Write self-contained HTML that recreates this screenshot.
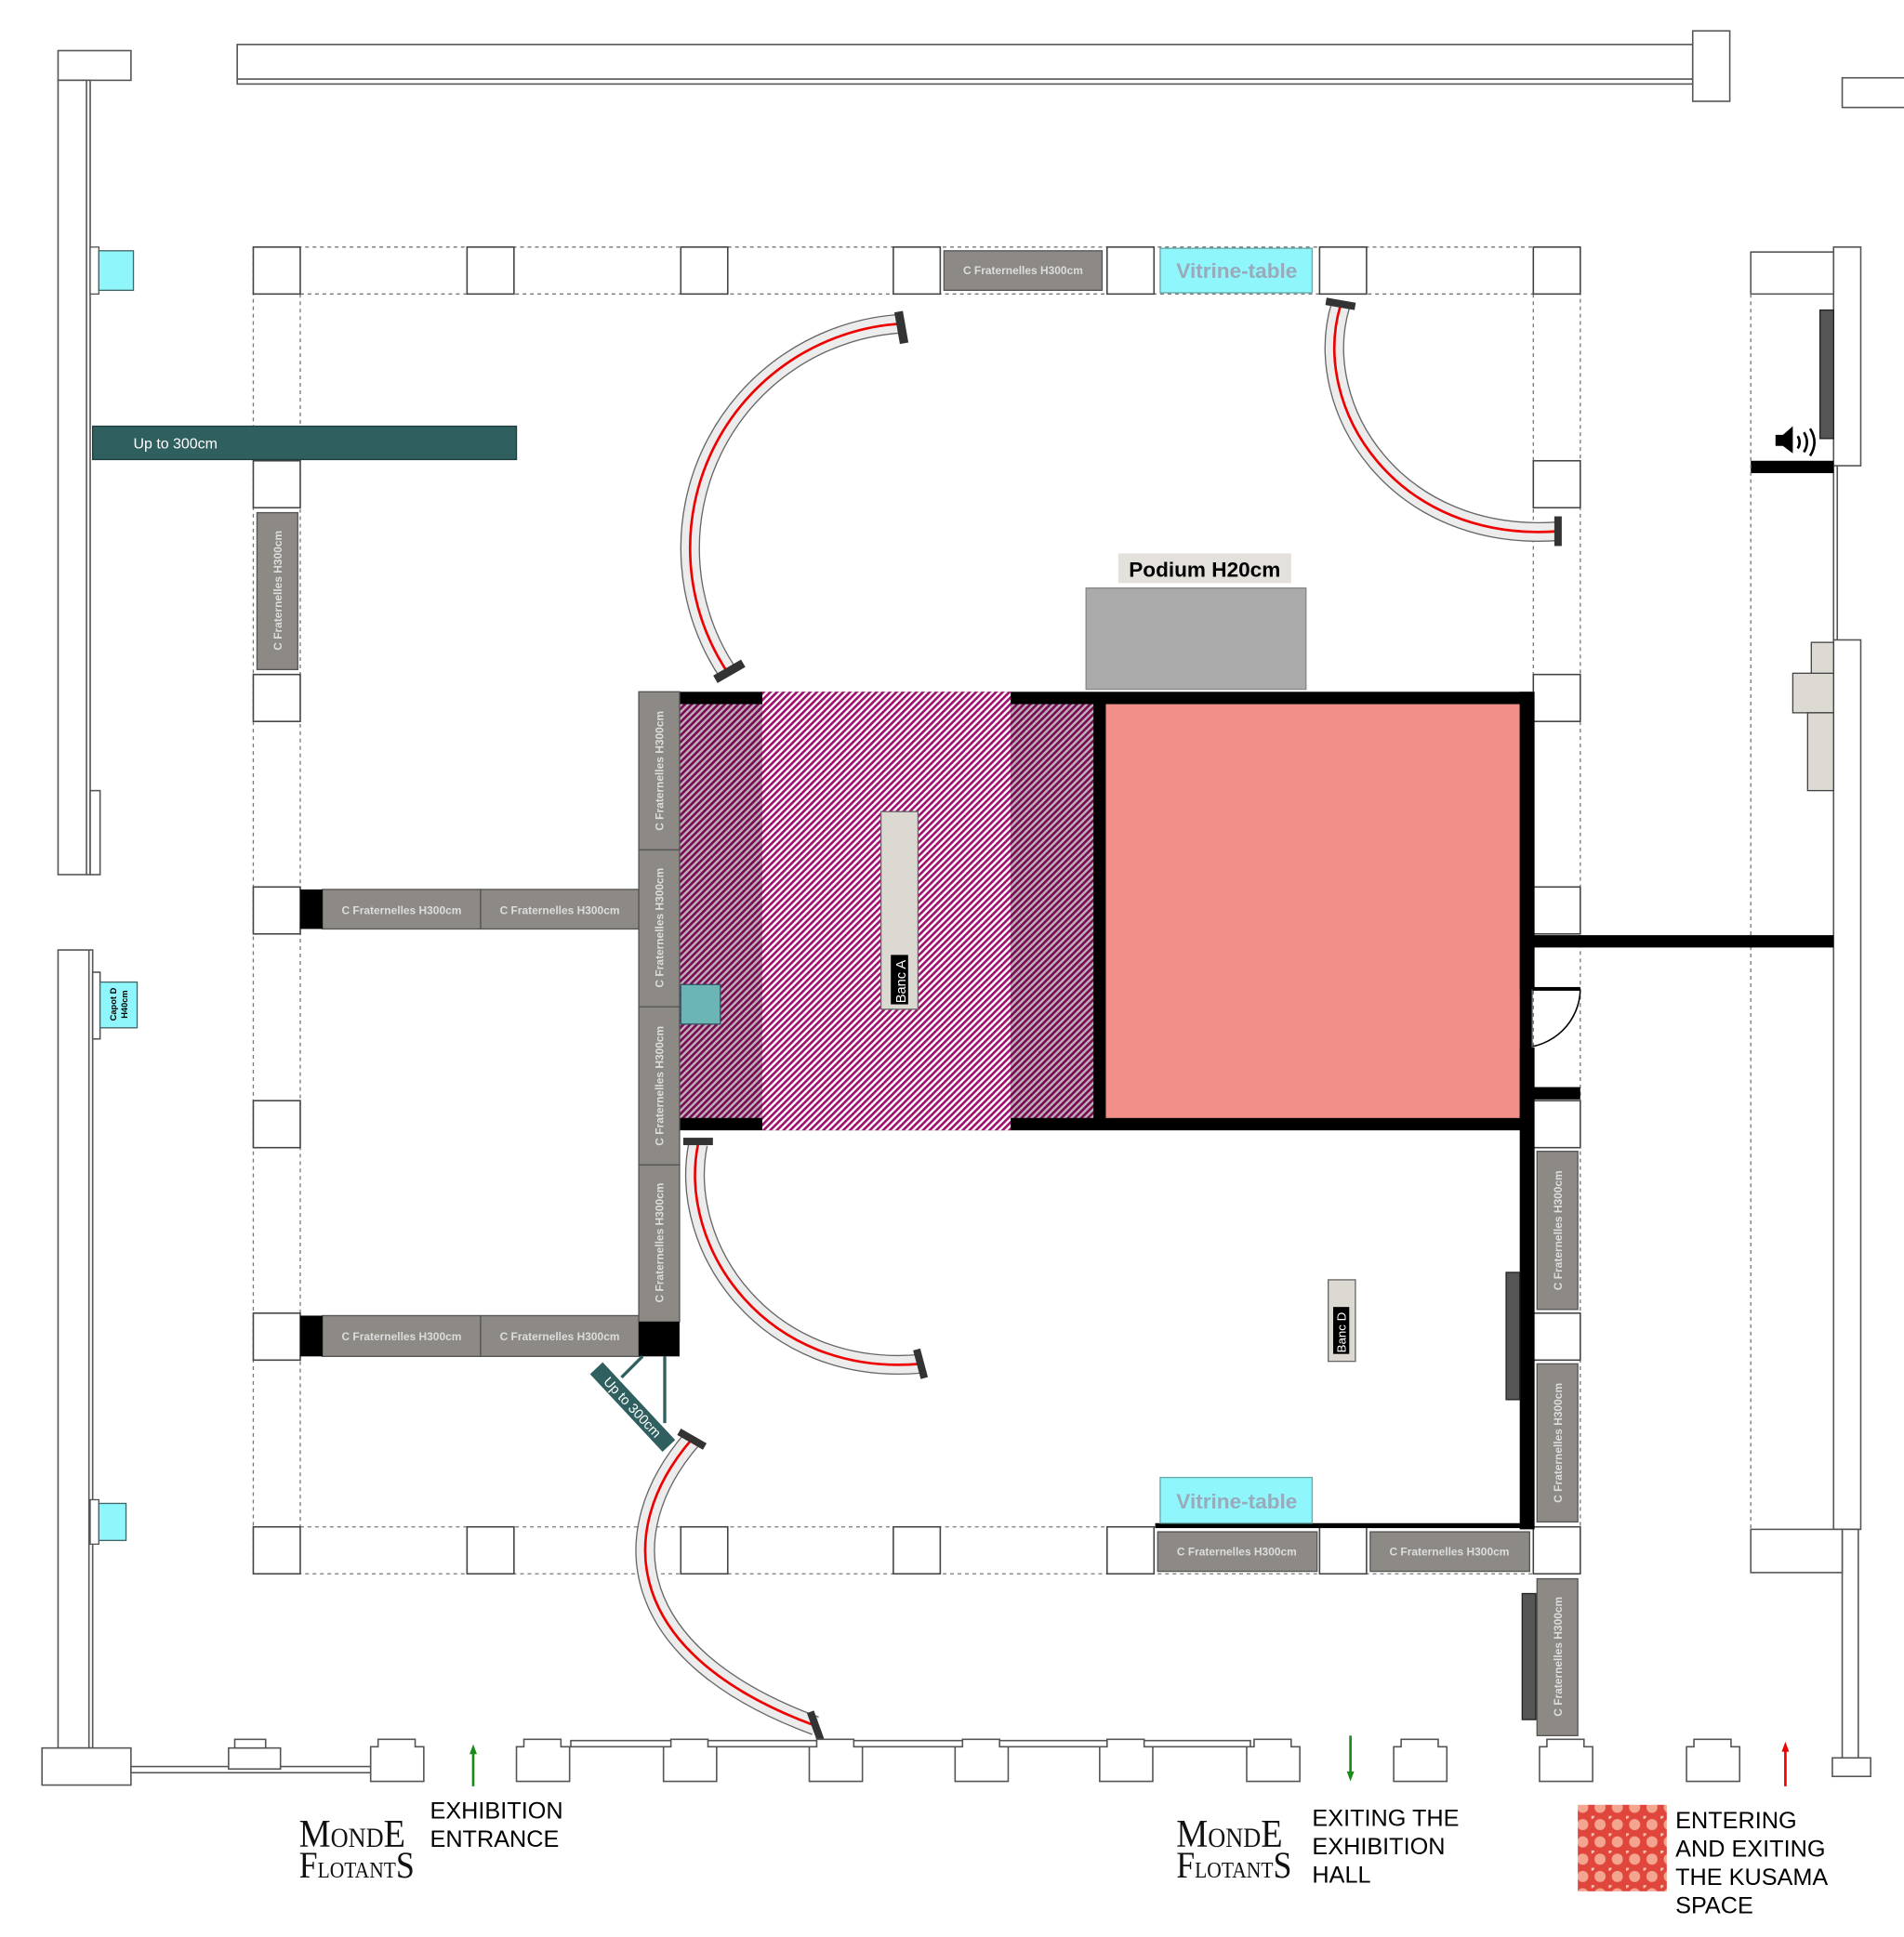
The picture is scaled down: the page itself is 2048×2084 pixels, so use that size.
<!DOCTYPE html>
<html><head><meta charset="utf-8"><style>
html,body{margin:0;padding:0;background:#fff;}
svg{display:block;font-family:"Liberation Sans",sans-serif;}
</style></head><body>
<svg width="2048" height="2084" viewBox="0 0 1541 1568" preserveAspectRatio="none" xmlns="http://www.w3.org/2000/svg">
<defs>
<pattern id="hd" width="3.8" height="3.8" patternUnits="userSpaceOnUse" patternTransform="rotate(45)">
<rect width="3.8" height="3.8" fill="#bdb2b8"/><rect width="2" height="3.8" fill="#7a0a55"/></pattern>
<pattern id="hb" width="3.8" height="3.8" patternUnits="userSpaceOnUse" patternTransform="rotate(45)">
<rect width="3.8" height="3.8" fill="#fff"/><rect width="2" height="3.8" fill="#a0106e"/></pattern>
<pattern id="ku" width="14" height="14" patternUnits="userSpaceOnUse">
<rect width="14" height="14" fill="#e0463c"/><circle cx="7" cy="7" r="4.5" fill="#f3a58f"/><circle cx="0" cy="0" r="2.5" fill="#f7c6b5"/></pattern>
</defs>
<g fill="#fff" stroke="#555" stroke-width="1.2">
<rect x="192" y="36" width="1178" height="32"/><line x1="192" y1="64" x2="1370" y2="64"/>
<rect x="1370" y="25" width="30" height="57"/>
<rect x="47" y="41" width="59" height="24"/>
<rect x="1491" y="63" width="55" height="24"/>
<rect x="47" y="65" width="26" height="643"/><line x1="70" y1="65" x2="70" y2="708"/>
<rect x="73" y="640" width="8" height="68"/>
<rect x="47" y="769" width="28" height="646"/><line x1="72" y1="769" x2="72" y2="1415"/>
<rect x="75" y="787" width="6" height="54"/>
<rect x="34" y="1415" width="72" height="30"/>
<rect x="1484" y="200" width="22" height="177"/>
<line x1="1484" y1="377" x2="1484" y2="518"/><line x1="1487" y1="377" x2="1487" y2="518"/>
<rect x="1484" y="518" width="22" height="720"/>
<rect x="1491" y="1238" width="13" height="185"/>
<rect x="1483" y="1423" width="31" height="15"/>
<rect x="1417" y="204" width="67" height="34"/>
<rect x="1417" y="1238" width="74" height="35"/>
</g>
<rect x="1417" y="373" width="67" height="10" fill="#000"/>
<rect x="1473" y="251" width="11" height="104" fill="#555" stroke="#222"/>
<g fill="#000"><path d="M1437 352h6l8-7v22l-8-6h-6z"/></g>
<g fill="none" stroke="#000" stroke-width="2"><path d="M1455 353q3 5 0 10"/><path d="M1460 350q5 8 0 16"/><path d="M1465 347q7 11 0 22"/></g>
<g fill="#dddad3" stroke="#444"><rect x="1466" y="520" width="18" height="30"/><rect x="1451" y="545" width="33" height="32"/><rect x="1463" y="577" width="21" height="63"/></g>
<g stroke="#777" stroke-width="1" stroke-dasharray="3,3" fill="none">
<line x1="205" y1="200" x2="1279" y2="200"/><line x1="243" y1="238" x2="1241" y2="238"/>
<line x1="205" y1="1274" x2="1279" y2="1274"/><line x1="243" y1="1236" x2="1241" y2="1236"/>
<line x1="205" y1="200" x2="205" y2="1274"/><line x1="243" y1="238" x2="243" y2="1236"/>
<line x1="1241" y1="238" x2="1241" y2="1236"/><line x1="1279" y1="200" x2="1279" y2="1274"/>
<line x1="1417" y1="238" x2="1417" y2="1238"/>
</g>
<g fill="#fff" stroke="#444" stroke-width="1.2">
<rect x="205" y="200" width="38" height="38"/><rect x="378" y="200" width="38" height="38"/><rect x="551" y="200" width="38" height="38"/><rect x="723" y="200" width="38" height="38"/><rect x="896" y="200" width="38" height="38"/><rect x="1068" y="200" width="38" height="38"/><rect x="1241" y="200" width="38" height="38"/>
<rect x="205" y="373" width="38" height="38"/><rect x="205" y="546" width="38" height="38"/><rect x="205" y="718" width="38" height="38"/><rect x="205" y="891" width="38" height="38"/><rect x="205" y="1063" width="38" height="38"/>
<rect x="1241" y="373" width="38" height="38"/><rect x="1241" y="546" width="38" height="38"/><rect x="1241" y="718" width="38" height="38"/><rect x="1241" y="891" width="38" height="38"/><rect x="1241" y="1063" width="38" height="38"/>
<rect x="205" y="1236" width="38" height="38"/><rect x="378" y="1236" width="38" height="38"/><rect x="551" y="1236" width="38" height="38"/><rect x="723" y="1236" width="38" height="38"/><rect x="896" y="1236" width="38" height="38"/><rect x="1068" y="1236" width="38" height="38"/><rect x="1241" y="1236" width="38" height="38"/>
</g>
<rect x="550" y="560" width="690" height="355" fill="#000"/>
<rect x="550" y="570" width="68" height="335" fill="url(#hd)"/>
<rect x="818" y="570" width="67" height="335" fill="url(#hd)"/>
<rect x="617" y="560" width="201" height="355" fill="url(#hb)"/>
<rect x="895" y="570" width="335" height="335" fill="#f28f88"/>
<rect x="879" y="476" width="178" height="82" fill="#aaa" stroke="#888"/>
<rect x="905" y="448" width="140" height="24" fill="#e4e1dc"/>
<text x="975" y="467" font-size="17" font-weight="bold" text-anchor="middle">Podium H20cm</text>
<rect x="713" y="657" width="30" height="160" fill="#dcd9d2" stroke="#666"/>
<rect x="721" y="773" width="14" height="40" fill="#000"/>
<text transform="translate(733,812) rotate(-90)" font-size="11" fill="#fff">Banc A</text>
<rect x="551" y="797" width="32" height="32" fill="#6bb5b5" stroke="#356"/>
<rect x="1230" y="560" width="12" height="241" fill="#000"/>
<rect x="1230" y="848" width="12" height="390" fill="#000"/>
<rect x="1240" y="757" width="244" height="10" fill="#000"/>
<rect x="1240" y="880" width="39" height="10" fill="#000"/>
<rect x="1240" y="799" width="39" height="3" fill="#000"/>
<path d="M1279 801 A48 48 0 0 1 1231 848" fill="none" stroke="#000" stroke-width="1.2"/>
<line x1="1240" y1="801" x2="1240" y2="848" stroke="#555"/>
<rect x="935" y="1233" width="305" height="4" fill="#000"/>
<g fill="#8d8985" stroke="#555" stroke-width="1">
<rect x="764" y="203" width="128" height="32"/>
<rect x="208" y="415" width="33" height="127"/>
<rect x="261" y="720" width="128" height="32"/><rect x="389" y="720" width="128" height="32"/>
<rect x="261" y="1065" width="128" height="33"/><rect x="389" y="1065" width="128" height="33"/>
<rect x="517" y="560" width="33" height="128"/><rect x="517" y="688" width="33" height="127"/><rect x="517" y="815" width="33" height="128"/><rect x="517" y="943" width="33" height="127"/>
<rect x="1244" y="932" width="33" height="128"/><rect x="1244" y="1104" width="33" height="128"/><rect x="1244" y="1278" width="33" height="127"/>
<rect x="937" y="1240" width="129" height="32"/><rect x="1109" y="1240" width="129" height="32"/>
</g>
<rect x="243" y="720" width="18" height="32" fill="#000"/>
<rect x="243" y="1065" width="18" height="33" fill="#000"/>
<rect x="517" y="1070" width="33" height="28" fill="#000"/>
<rect x="1219" y="1030" width="11" height="103" fill="#555" stroke="#222"/>
<rect x="1232" y="1290" width="11" height="102" fill="#555" stroke="#222"/>
<g fill="#ddd" font-size="9" font-weight="bold">
<text x="828" y="222" text-anchor="middle">C Fraternelles H300cm</text>
<text x="325" y="740" text-anchor="middle">C Fraternelles H300cm</text><text x="453" y="740" text-anchor="middle">C Fraternelles H300cm</text>
<text x="325" y="1085" text-anchor="middle">C Fraternelles H300cm</text><text x="453" y="1085" text-anchor="middle">C Fraternelles H300cm</text>
<text x="1001" y="1259" text-anchor="middle">C Fraternelles H300cm</text><text x="1173" y="1259" text-anchor="middle">C Fraternelles H300cm</text>
<text transform="translate(228,478) rotate(-90)" text-anchor="middle">C Fraternelles H300cm</text>
<text transform="translate(537,624) rotate(-90)" text-anchor="middle">C Fraternelles H300cm</text>
<text transform="translate(537,751) rotate(-90)" text-anchor="middle">C Fraternelles H300cm</text>
<text transform="translate(537,879) rotate(-90)" text-anchor="middle">C Fraternelles H300cm</text>
<text transform="translate(537,1006) rotate(-90)" text-anchor="middle">C Fraternelles H300cm</text>
<text transform="translate(1264,996) rotate(-90)" text-anchor="middle">C Fraternelles H300cm</text>
<text transform="translate(1264,1168) rotate(-90)" text-anchor="middle">C Fraternelles H300cm</text>
<text transform="translate(1264,1341) rotate(-90)" text-anchor="middle">C Fraternelles H300cm</text>
</g>
<rect x="939" y="201" width="123" height="36" fill="#8ff6fb" stroke="#6aa"/>
<text x="1001" y="225" font-size="17" font-weight="bold" fill="#9ab" text-anchor="middle">Vitrine-table</text>
<rect x="939" y="1196" width="123" height="37" fill="#8ff6fb" stroke="#6aa"/>
<text x="1001" y="1221" font-size="17" font-weight="bold" fill="#9ab" text-anchor="middle">Vitrine-table</text>
<rect x="81" y="795" width="30" height="37" fill="#8ff6fb" stroke="#466"/>
<text transform="translate(94,813) rotate(-90)" font-size="7" font-weight="bold" text-anchor="middle">Capot D</text>
<text transform="translate(103,813) rotate(-90)" font-size="7" font-weight="bold" text-anchor="middle">H40cm</text>
<rect x="73" y="200" width="7" height="38" fill="#fff" stroke="#555"/>
<rect x="80" y="203" width="28" height="32" fill="#8ff6fb" stroke="#466"/>
<rect x="73" y="1214" width="7" height="36" fill="#fff" stroke="#555"/>
<rect x="80" y="1217" width="22" height="30" fill="#8ff6fb" stroke="#466"/>
<rect x="1075" y="1036" width="22" height="66" fill="#dcd9d2" stroke="#666"/>
<rect x="1079" y="1058" width="13" height="38" fill="#000"/>
<text transform="translate(1089,1095) rotate(-90)" font-size="10" fill="#fff">Banc D</text>
<rect x="75" y="345" width="343" height="27" fill="#2f5f5e" stroke="#1f3f3f"/>
<text x="108" y="363" font-size="12" fill="#fff">Up to 300cm</text>
<line x1="520" y1="1098" x2="503" y2="1115" stroke="#2f5f5e" stroke-width="2.5"/>
<line x1="538" y1="1098" x2="538" y2="1152" stroke="#2f5f5e" stroke-width="2.5"/>
<g transform="translate(512,1139) rotate(47)">
<rect x="-43" y="-7" width="86" height="14" fill="#2f5f5e"/>
<text x="0" y="4" font-size="11" fill="#fff" text-anchor="middle">Up to 300cm</text></g>
<g fill="none">
<g stroke="#666" stroke-width="16"><path id="a1" d="M730 262 A182 182 0 0 0 590 546"/><path d="M1085 247 C1060 330, 1130 440, 1262 430"/><path d="M565 926 C548 1010, 620 1115, 745 1104"/><path d="M560 1165 C495 1240, 505 1340, 660 1397"/></g>
<g stroke="#ececec" stroke-width="14"><path d="M730 262 A182 182 0 0 0 590 546"/><path d="M1085 247 C1060 330, 1130 440, 1262 430"/><path d="M565 926 C548 1010, 620 1115, 745 1104"/><path d="M560 1165 C495 1240, 505 1340, 660 1397"/></g>
<g stroke="#e00" stroke-width="2"><path d="M730 262 A182 182 0 0 0 590 546"/><path d="M1085 247 C1060 330, 1130 440, 1262 430"/><path d="M565 926 C548 1010, 620 1115, 745 1104"/><path d="M560 1165 C495 1240, 505 1340, 660 1397"/></g>
</g>
<g fill="#333">
<rect x="726" y="252" width="7" height="26" transform="rotate(-10 730 265)"/>
<rect x="577" y="540" width="26" height="7" transform="rotate(-30 590 543)"/>
<rect x="1073" y="243" width="24" height="6" transform="rotate(10 1085 246)"/>
<rect x="1258" y="418" width="6" height="24"/>
<rect x="553" y="921" width="24" height="6"/>
<rect x="742" y="1092" width="6" height="24" transform="rotate(-15 745 1104)"/>
<rect x="548" y="1162" width="24" height="6" transform="rotate(30 560 1165)"/>
<rect x="657" y="1385" width="6" height="24" transform="rotate(-20 660 1397)"/>
</g>
<g fill="#fff" stroke="#555" stroke-width="1.2">
<rect x="106" y="1430" width="200" height="5"/>
<rect x="462" y="1409" width="550" height="5"/>
<rect x="185" y="1415" width="42" height="17"/><rect x="190" y="1408" width="25" height="7"/>
</g>
<g fill="#fff" stroke="#555" stroke-width="1.2">
<path id="pier" d="M300 1414h6v-6h30v6h7v28h-43z"/>
<use href="#pier" x="118"/><use href="#pier" x="237"/><use href="#pier" x="355"/><use href="#pier" x="473"/><use href="#pier" x="590"/><use href="#pier" x="709"/><use href="#pier" x="828"/><use href="#pier" x="946"/><use href="#pier" x="1065"/>
</g>
<line x1="383" y1="1418" x2="383" y2="1446" stroke="#1a8a1a" stroke-width="2"/><path d="M380 1420l3-8 3 8z" fill="#1a8a1a"/>
<line x1="1093" y1="1405" x2="1093" y2="1436" stroke="#1a8a1a" stroke-width="2"/><path d="M1090 1434l3 8 3-8z" fill="#1a8a1a"/>
<line x1="1445" y1="1416" x2="1445" y2="1446" stroke="#e00" stroke-width="2"/><path d="M1442 1418l3-8 3 8z" fill="#e00"/>
<g font-family="Liberation Serif,serif" fill="#111">
<text x="242" y="1495" font-size="32" transform="translate(242 0) scale(0.9 1) translate(-242 0)">M<tspan font-size="22">OND</tspan>E</text>
<text x="242" y="1520" font-size="30" transform="translate(242 0) scale(0.9 1) translate(-242 0)">F<tspan font-size="18">LOTANT</tspan>S</text>
<text x="952" y="1495" font-size="32" transform="translate(952 0) scale(0.9 1) translate(-952 0)">M<tspan font-size="22">OND</tspan>E</text>
<text x="952" y="1520" font-size="30" transform="translate(952 0) scale(0.9 1) translate(-952 0)">F<tspan font-size="18">LOTANT</tspan>S</text>
</g>
<g font-size="19" fill="#000">
<text x="348" y="1472">EXHIBITION</text><text x="348" y="1495">ENTRANCE</text>
<text x="1062" y="1478">EXITING THE</text><text x="1062" y="1501">EXHIBITION</text><text x="1062" y="1524">HALL</text>
<text x="1356" y="1480">ENTERING</text><text x="1356" y="1503">AND EXITING</text><text x="1356" y="1526">THE KUSAMA</text><text x="1356" y="1549">SPACE</text>
</g>
<rect x="1277" y="1461" width="72" height="70" fill="url(#ku)"/>
</svg>
</body></html>
